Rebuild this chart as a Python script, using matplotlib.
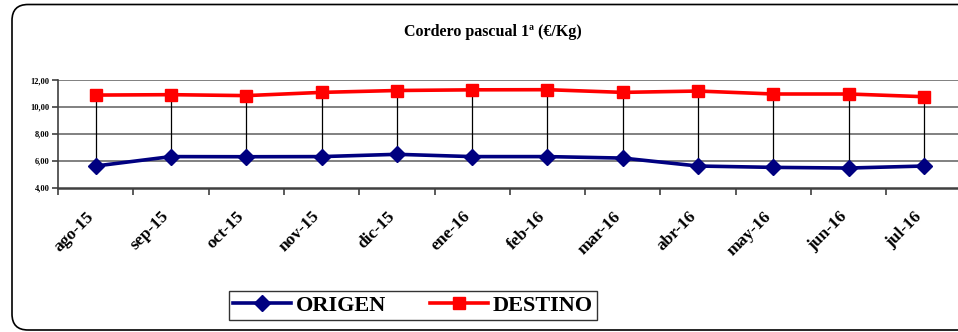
import matplotlib
matplotlib.use("Agg")
import matplotlib.pyplot as plt
from matplotlib.patches import FancyBboxPatch
from matplotlib.lines import Line2D
from matplotlib.transforms import ScaledTranslation

months = ["ago-15", "sep-15", "oct-15", "nov-15", "dic-15", "ene-16",
          "feb-16", "mar-16", "abr-16", "may-16", "jun-16", "jul-16"]
origen = [5.61, 6.31, 6.30, 6.31, 6.48, 6.31, 6.31, 6.20, 5.61, 5.51, 5.46, 5.61]
destino = [10.88, 10.91, 10.84, 11.08, 11.22, 11.27, 11.28, 11.08, 11.18, 10.96, 10.96, 10.76]
yticks = [4, 6, 8, 10, 12]
title = "Cordero pascual 1ª (€/Kg)"

plt.rcParams['font.family'] = ['Liberation Serif', 'DejaVu Serif']
plt.rcParams['font.weight'] = 'bold'

W, H = 958, 332
fig = plt.figure(figsize=(W / 100, H / 100), dpi=100)

# outer rounded border (pixel coordinates, origin bottom-left)
border = FancyBboxPatch((12, H - 330), 975 - 12, 330 - 4.5,
                        boxstyle="round,pad=0,rounding_size=16",
                        transform=None, fill=False, ec='black', lw=1.2)
fig.patches.append(border)

left, right = 58, 961.6
top, bottom = 80, 187.7
ax = fig.add_axes([left / W, (H - bottom) / H, (right - left) / W, (bottom - top) / H])

x = list(range(len(months)))
for xi, o, d in zip(x, origen, destino):
    ax.plot([xi, xi], [o, d], color='black', lw=0.9, zorder=2)
ax.plot(x, destino, color='#ff0000', lw=2.6, marker='s', ms=8.5, zorder=4, label='DESTINO')
ax.plot(x, origen, color='#000080', lw=2.6, marker='D', ms=8, zorder=4, label='ORIGEN')

ax.set_xlim(-0.5, len(months) - 0.5)
ax.set_ylim(4, 12)
ax.set_yticks(yticks)
ax.set_yticklabels([f"{v:.2f}".replace('.', ',') for v in yticks], fontsize=6, fontweight='bold')
for v in yticks[1:]:
    ax.axhline(v, color='#808080', lw=1.4, zorder=1)

ax.set_xticks(x)
ax.set_xticklabels(months, rotation=45, ha='right', va='top', rotation_mode='anchor',
                   fontsize=12.5, fontweight='bold')
ax.set_xticks([i + 0.5 for i in range(-1, len(months))], minor=True)
ax.tick_params(axis='x', which='major', length=0, pad=15)
ax.tick_params(axis='x', which='minor', length=5, width=1.2, color='#404040', direction='out')
ax.tick_params(axis='y', length=4, width=1.2, color='#404040', pad=2)
shift = ScaledTranslation(-10 / 100, 0, fig.dpi_scale_trans)
for lab in ax.get_xticklabels():
    lab.set_transform(lab.get_transform() + shift)

for s in ['top', 'right']:
    ax.spines[s].set_visible(False)
ax.spines['bottom'].set_color('#404040')
ax.spines['bottom'].set_linewidth(1.8)
ax.spines['left'].set_color('#404040')
ax.spines['left'].set_linewidth(1.2)
ax.patch.set_alpha(0)

fig.text(493 / W, 1 - 32 / H, title, ha='center', va='center', fontsize=11.5, fontweight='bold')

handles = [Line2D([0], [0], color='#000080', lw=2.6, marker='D', ms=8),
           Line2D([0], [0], color='#ff0000', lw=2.6, marker='s', ms=8)]
leg = fig.legend(handles, ['ORIGEN', 'DESTINO'], loc='center',
                 bbox_to_anchor=(413 / W, 1 - 305.5 / H), ncol=2,
                 prop={'family': 'Liberation Serif', 'weight': 'bold', 'size': 16},
                 frameon=True, fancybox=False, edgecolor='black', handlelength=2.6,
                 handletextpad=0.2, columnspacing=2.0, borderpad=0.2)
leg.get_frame().set_linewidth(1.0)

fig.savefig("out.png", dpi=100)
